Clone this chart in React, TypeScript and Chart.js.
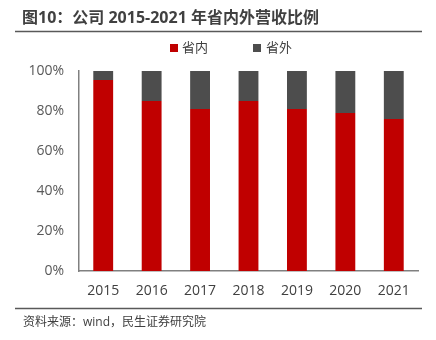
import React, { useEffect, useRef } from "react";
import { Chart, registerables } from "chart.js";

Chart.register(...registerables);

const years = ["2015", "2016", "2017", "2018", "2019", "2020", "2021"];
const inProvince = [95.5, 85, 81, 85, 81, 79, 76];
const outProvince = [4.5, 15, 19, 15, 19, 21, 24];
const seriesNames = ["省内", "省外"];
const yTicks = [0, 20, 40, 60, 80, 100];
const titleText = "图10：公司 2015-2021 年省内外营收比例";
const sourceText = "资料来源：wind，民生证券研究院";

const RED = "#C00000";
const GRAY = "#4D4D4D";
const FONT = "'Open Sans', 'Noto Sans CJK SC', sans-serif";

const decorPlugin = {
  id: "decor",
  afterDraw(chart: any) {
    const ctx = chart.ctx as CanvasRenderingContext2D;
    ctx.save();
    // title
    ctx.fillStyle = "#404040";
    ctx.font = `bold 16px ${FONT}`;
    ctx.textBaseline = "middle";
    ctx.textAlign = "left";
    ctx.fillText(titleText, 22, 18);
    // lines
    ctx.strokeStyle = "#595959";
    ctx.lineWidth = 1.5;
    ctx.beginPath();
    ctx.moveTo(15, 31.5);
    ctx.lineTo(422, 31.5);
    ctx.moveTo(15, 308.5);
    ctx.lineTo(422, 308.5);
    ctx.stroke();
    // legend
    ctx.font = `13px ${FONT}`;
    ctx.fillStyle = RED;
    ctx.fillRect(170, 44, 8, 8);
    ctx.fillStyle = "#404040";
    ctx.fillText(seriesNames[0], 182, 48);
    ctx.fillStyle = GRAY;
    ctx.fillRect(253, 44, 8, 8);
    ctx.fillStyle = "#404040";
    ctx.fillText(seriesNames[1], 266, 48);
    // source
    ctx.font = `12px ${FONT}`;
    ctx.fillStyle = "#404040";
    ctx.fillText(sourceText, 23, 323);
    ctx.restore();
  },
};

export default function App() {
  const ref = useRef<HTMLCanvasElement>(null);
  useEffect(() => {
    const chart = new Chart(ref.current!, {
      type: "bar",
      data: {
        labels: years,
        datasets: [
          { label: seriesNames[0], data: inProvince, backgroundColor: RED },
          { label: seriesNames[1], data: outProvince, backgroundColor: GRAY },
        ],
      },
      options: {
        animation: false,
        responsive: false,
        layout: { padding: { top: 71, right: 18, left: 0, bottom: 0 } },
        datasets: { bar: { categoryPercentage: 1, barPercentage: 0.41 } } as any,
        plugins: { legend: { display: false }, tooltip: { enabled: false } },
        scales: {
          x: {
            stacked: true,
            grid: { display: false, drawTicks: false },
            border: { display: true, color: "#808080", width: 1.5 },
            ticks: { color: "#404040", font: { size: 14, family: FONT }, padding: 12 },
            afterFit: (s: any) => {
              s.height = 69;
            },
          },
          y: {
            stacked: true,
            min: 0,
            max: 100,
            grid: { display: false, drawTicks: false },
            border: { display: true, color: "#808080", width: 1.5 },
            afterBuildTicks: (s: any) => {
              s.ticks = yTicks.map((v) => ({ value: v }));
            },
            ticks: {
              color: "#595959",
              font: { size: 14, family: FONT },
              padding: 15,
              callback: (v: any) => v + "%",
            },
            afterFit: (s: any) => {
              s.width = 79;
            },
          },
        },
      },
      plugins: [decorPlugin],
    });
    return () => chart.destroy();
  }, []);
  return (
    <div style={{ position: "fixed", left: 0, top: 0, width: 436, height: 340, background: "#fff" }}>
      <canvas ref={ref} width={436} height={340} style={{ display: "block" }} />
    </div>
  );
}
